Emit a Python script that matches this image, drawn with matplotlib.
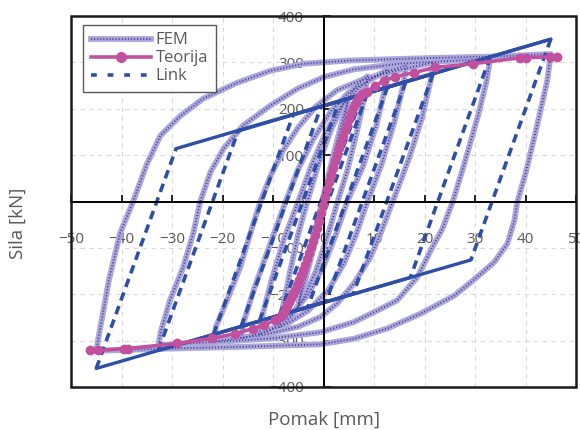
import matplotlib
matplotlib.use("Agg")
import matplotlib.pyplot as plt
from matplotlib.patches import Rectangle
from matplotlib.lines import Line2D

plt.rcParams['font.family'] = ['Open Sans', 'DejaVu Sans']

# ---------------- data ----------------
fem_loop0_x = [-5, -4.2, -2.5, -0.5, 1.5, 3.5, 5, 4.2, 2.5, 0.5, -1.5, -3.5, -5]
fem_loop0_y = [-225, -180, -100, -10, 80, 165, 225, 180, 100, 10, -80, -165, -225]

fem_loop1_x = [-8.7, -8.2, -6.6, -5, -3.2, -1, 1.5, 4, 6.5, 8.7,
               8.2, 6.6, 4.8, 2.8, 0.8, -1.5, -4, -6.5, -8.7]
fem_loop1_y = [-272, -235, -150, -70, 0, 80, 155, 212, 250, 270,
               230, 150, 70, 0, -75, -150, -210, -250, -272]

fem_loop2_x = [-12.7, -12.2, -10.3, -7.8, -5, -2.5, 0.5, 3.5, 7, 10, 12.7,
               12.2, 10.5, 7.8, 4.7, 2.5, 0, -3, -6.5, -9.5, -12.7]
fem_loop2_y = [-287, -250, -170, -80, 0, 75, 150, 205, 245, 268, 285,
               245, 165, 75, 0, -70, -140, -200, -245, -270, -287]

fem_loop3_x = [-16.3, -15.8, -13.8, -11.5, -9.5, -7.5, -5, -2, 1.5, 5, 9, 12.5, 16.3,
               15.8, 14, 11.5, 8.7, 6.5, 4, 1, -3, -7, -11, -16.3]
fem_loop3_y = [-295, -260, -190, -120, -60, 0, 70, 135, 195, 235, 262, 280, 293,
               250, 170, 80, 0, -70, -135, -190, -235, -262, -280, -295]

fem_loop4_x = [-21.8, -21.3, -19.1, -16.5, -14.5, -12.5, -10.5, -8, -5, -1.5, 2.7, 8, 14, 21.7,
               21.2, 19.5, 17, 15.3, 13.7, 11.3, 9.3, 6, 2.7, -0.6, -5, -12, -21.8]
fem_loop4_y = [-302, -270, -213, -142, -69, 0, 55, 110, 160, 205, 240, 264, 281, 300,
               260, 180, 95, 45, 0, -69, -120, -177, -220, -249, -270, -288, -302]

fem_loop5_x = [-32.7, -32.2, -30.4, -27.8, -25.8, -24.4, -22.4, -19.8, -15.9, -10.5, -5.2, 0, 6, 15, 25, 33,
               32.3, 30.6, 27.8, 25.6, 23.5, 21.2, 18.6, 14.6, 10.7, 6, -0.6, -10, -20, -32.7]
fem_loop5_y = [-310, -280, -213, -142, -69, 0, 63, 114, 164, 207, 243, 268, 285, 297, 303, 308,
               260, 185, 78, 0, -60, -106, -163, -213, -235, -260, -282, -295, -302, -310]

fem_loop6_x = [-45, -44.5, -42.5, -40.3, -37.7, -35, -32.3, -28.3, -23.8, -17.1, -10.5, -4, 5, 20, 35, 45,
               44.3, 42, 40, 38.4, 37.8, 36.4, 33.8, 29.2, 25.9, 19.2, 12.6, 6, -0.6, -15, -30, -45]
fem_loop6_y = [-322, -290, -170, -69, 0, 80, 142, 185, 222, 256, 282, 297, 304, 309, 313, 318,
               260, 150, 60, 0, -41, -91, -131, -174, -203, -242, -274, -296, -308, -313, -317, -322]

# Link (bilinear) path vertices: even segments elastic (dashed), odd segments hardening (solid)
link_x = [0, 7.7, 8.7, -7.1, -8.7, 7.1, 12.7, -3.1, -12.7, 3.1, 16.3, 0.5, -16.3, -0.5, 21.7,
          5.9, -21.8, -6.0, 33.0, 17.2, -32.7, -16.9, 45.0, 29.2, -45.0, -29.2, 45.0]
link_y = [0, 230, 234, -240, -245, 229, 247, -228, -258, 216, 258, -216, -269, 204, 275,
          -199, -287, 187, 312, -164, -321, 152, 350, -126, -360, 114, 350]

# Teorija (theory) curve points
teo_x = [-46.2, -44.6, -39.5, -38.7, -29.0, -22.0, -17.5, -13.9, -11.7, -9.7, -8.5,
         -8.1, -7.7, -7.3, -6.9, -6.5, -6.1, -5.7, -5.3, -4.9, -4.5, -4.1, -3.7, -3.3,
         -2.9, -2.5, -2.1, -1.7, -1.3, -0.9, -0.5, -0.1, 0.3, 0.7, 1.1, 1.5, 1.9, 2.3,
         2.7, 3.1, 3.5, 3.9, 4.3, 4.7, 5.1, 5.5, 5.9, 6.3, 6.7, 7.1, 7.6, 8.1, 8.7,
         10.1, 11.9, 14.1, 17.9, 22.0, 29.6, 39.0, 40.0, 44.8, 46.2]
teo_y = [-321, -321, -317, -317, -306, -295, -285, -274, -266, -256, -246,
         -240, -233, -225, -217, -208, -199, -190, -180, -170, -159, -148, -136, -124,
         -112, -99, -86, -72, -57, -42, -25, -8, 10, 26, 42, 57, 72, 87,
         101, 115, 128, 141, 154, 166, 178, 190, 201, 211, 219, 226, 231, 234, 236,
         250, 259, 269, 278, 289, 297, 310, 310, 312, 312]

x_ticks = [-50, -40, -30, -20, -10, 0, 10, 20, 30, 40, 50]
y_ticks = [-400, -300, -200, -100, 0, 100, 200, 300, 400]

# ---------------- styling ----------------
FEM_BASE = '#aca7da'
FEM_DOT = '#40409a'
FEM_DASH = (0, (0.6, 1.1))
LINK_C = '#2e4fa8'
TEO_C = '#c1519f'
GRAY = '#595959'

fig = plt.figure(figsize=(5.8, 4.3), dpi=100)
ax = fig.add_axes([71/580, 1 - 387/430, 505/580, 371/430])
ax.set_xlim(-50, 50)
ax.set_ylim(-400, 400)

# grid
for xv in x_ticks:
    ax.axvline(xv, color='#d9d9d9', lw=0.8, ls=(0, (4, 4)), zorder=0)
for yv in y_ticks:
    ax.axhline(yv, color='#d9d9d9', lw=0.8, ls=(0, (4, 4)), zorder=0)

# FEM
fem_loops = [(fem_loop0_x, fem_loop0_y), (fem_loop1_x, fem_loop1_y), (fem_loop2_x, fem_loop2_y),
             (fem_loop3_x, fem_loop3_y), (fem_loop4_x, fem_loop4_y), (fem_loop5_x, fem_loop5_y),
             (fem_loop6_x, fem_loop6_y)]
for lx, ly in fem_loops:
    ax.plot(lx, ly, color=FEM_BASE, lw=4.2, solid_joinstyle='round', solid_capstyle='round', zorder=2)
for lx, ly in fem_loops:
    ax.plot(lx, ly, color=FEM_DOT, lw=1.3, ls=FEM_DASH, zorder=2.1)

# Link
for i in range(len(link_x) - 1):
    sx = link_x[i:i + 2]
    sy = link_y[i:i + 2]
    if i % 2 == 0:
        ax.plot(sx, sy, color=LINK_C, lw=2.6, ls=(0, (2.4, 1.6)), zorder=3)
    else:
        ax.plot(sx, sy, color=LINK_C, lw=2.4, solid_capstyle='round', zorder=3)

# Teorija
ax.plot(teo_x, teo_y, color=TEO_C, lw=2.6, marker='o', ms=6, zorder=4)

# axes at zero
for s in ['top', 'right']:
    ax.spines[s].set_visible(False)
ax.spines['left'].set_position(('data', 0))
ax.spines['bottom'].set_position(('data', 0))
for s in ['left', 'bottom']:
    ax.spines[s].set_color('black')
    ax.spines[s].set_linewidth(1.4)
    ax.spines[s].set_zorder(3.5)
ax.add_patch(Rectangle((0, 0), 1, 1, transform=ax.transAxes, fill=False,
                       edgecolor='#1a1a1a', lw=1.8, zorder=6, clip_on=False))

ax.set_xticks(x_ticks)
ax.set_yticks(y_ticks)
ax.tick_params(axis='x', direction='in', length=5, width=1.2, pad=22,
               labelsize=11, labelcolor=GRAY)
ax.tick_params(axis='y', direction='in', length=5, width=1.2, pad=14,
               labelsize=11, labelcolor=GRAY)
for lab in ax.get_xticklabels() + ax.get_yticklabels():
    lab.set_zorder(5)

fig.text(18/580, 1 - 223/430, 'Sila [kN]', rotation=90, ha='center', va='center',
         fontsize=13.5, color=GRAY)
fig.text(324/580, 1 - 420/430, 'Pomak [mm]', ha='center', va='center',
         fontsize=13.5, color=GRAY)

# legend
h_fem = (Line2D([], [], color=FEM_BASE, lw=4.2),
         Line2D([], [], color=FEM_DOT, lw=1.3, ls=FEM_DASH))
h_teo = Line2D([], [], color=TEO_C, lw=2.6, marker='o', ms=7)
h_link = Line2D([], [], color=LINK_C, lw=2.6, ls=(0, (1.6, 3.0)))
leg = ax.legend([h_fem, h_teo, h_link], ['FEM', 'Teorija', 'Link'],
                loc='upper left', bbox_to_anchor=(12/505, 1 - 9/371), borderaxespad=0,
                fontsize=12, frameon=True, fancybox=False, framealpha=1,
                edgecolor=GRAY, handlelength=3.6, handletextpad=0.3,
                labelspacing=0.12, borderpad=0.45, labelcolor=GRAY)
leg.get_frame().set_linewidth(1.0)
leg.set_zorder(7)

fig.savefig('out.png', dpi=100)
